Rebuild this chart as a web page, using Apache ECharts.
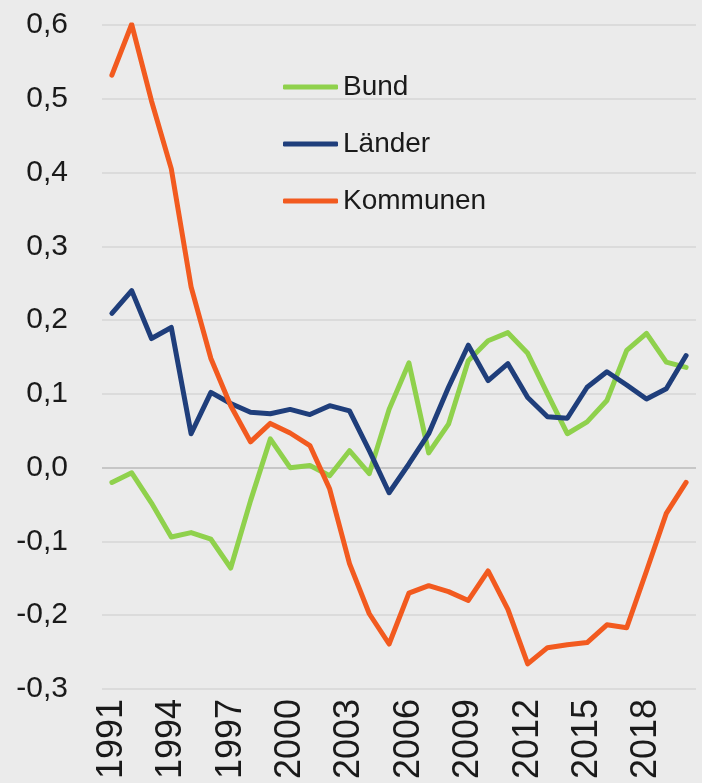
<!DOCTYPE html>
<html>
<head>
<meta charset="utf-8">
<script src="https://cdn.jsdelivr.net/npm/echarts@6/dist/echarts.min.js"></script>
<style>
  html, body { margin: 0; padding: 0; background: #ebebeb; }
  #chart { width: 702px; height: 783px; }
</style>
</head>
<body>
<div id="chart"></div>
<script>
  // Jahre 1991-2020
  const years = ['1991', '1992', '1993', '1994', '1995', '1996', '1997', '1998', '1999', '2000',
    '2001', '2002', '2003', '2004', '2005', '2006', '2007', '2008', '2009', '2010',
    '2011', '2012', '2013', '2014', '2015', '2016', '2017', '2018', '2019', '2020']
  const seriesNames = ['Bund', 'Länder', 'Kommunen']
  const bund = [-0.02, -0.007, -0.048, -0.094, -0.088, -0.097, -0.136, -0.045, 0.039, 0.0,
    0.003, -0.011, 0.023, -0.008, 0.079, 0.142, 0.02, 0.059, 0.145, 0.172,
    0.183, 0.155, 0.1, 0.046, 0.062, 0.091, 0.159, 0.182, 0.143, 0.136]
  const laender = [0.209, 0.24, 0.175, 0.19, 0.046, 0.102, 0.087, 0.075, 0.073, 0.079,
    0.072, 0.084, 0.077, 0.023, -0.034, 0.005, 0.046, 0.109, 0.166, 0.118,
    0.141, 0.095, 0.069, 0.067, 0.109, 0.13, 0.112, 0.093, 0.107, 0.152]
  const kommunen = [0.532, 0.601, 0.497, 0.405, 0.245, 0.148, 0.084, 0.035, 0.06, 0.047,
    0.03, -0.029, -0.13, -0.198, -0.239, -0.17, -0.16, -0.168, -0.18, -0.14,
    -0.192, -0.266, -0.244, -0.24, -0.237, -0.213, -0.217, -0.14, -0.062, -0.02]
  const yMin = -0.3
  const yMax = 0.6
  const yStep = 0.1

  const colors = ['#8fd14c', '#1f3e7b', '#f25a1f']
  const font = "'Liberation Sans', Arial, sans-serif"

  function makeLine(name, data, color) {
    return {
      name: name,
      type: 'line',
      data: data,
      symbol: 'none',
      smooth: false,
      lineStyle: { width: 5, color: color, cap: 'round', join: 'round' },
      itemStyle: { color: color }
    }
  }

  const chart = echarts.init(document.getElementById('chart'), null, { renderer: 'canvas' })
  const option = {
    backgroundColor: '#ebebeb',
    animation: false,
    grid: { left: 102, right: 6, top: 25, bottom: 94 },
    legend: {
      data: seriesNames,
      orient: 'vertical',
      left: 278,
      top: 68,
      icon: 'roundRect',
      itemWidth: 55,
      itemHeight: 5,
      itemGap: 29,
      textStyle: {
        fontFamily: font,
        fontSize: 28,
        color: '#1a1a1a'
      }
    },
    xAxis: {
      type: 'category',
      data: years,
      boundaryGap: true,
      axisLine: { show: false },
      axisTick: { show: false },
      axisLabel: {
        interval: 2,
        rotate: 90,
        margin: 10,
        fontFamily: font,
        fontSize: 36,
        color: '#1a1a1a'
      }
    },
    yAxis: {
      type: 'value',
      min: yMin,
      max: yMax,
      interval: yStep,
      axisLine: { show: false },
      axisTick: { show: false },
      axisLabel: {
        margin: 34,
        fontFamily: font,
        fontSize: 30,
        color: '#1a1a1a',
        formatter: function (v) { return v.toFixed(1).replace('.', ',') }
      },
      splitLine: {
        lineStyle: {
          width: 1.5,
          color: ['#d6d6d6', '#d6d6d6', '#d6d6d6', '#bababa', '#d6d6d6',
            '#d6d6d6', '#d6d6d6', '#d6d6d6', '#d6d6d6', '#d6d6d6']
        }
      }
    },
    series: [
      makeLine(seriesNames[0], bund, colors[0]),
      makeLine(seriesNames[1], laender, colors[1]),
      makeLine(seriesNames[2], kommunen, colors[2])
    ]
  }
  chart.setOption(option)
</script>
</body>
</html>
